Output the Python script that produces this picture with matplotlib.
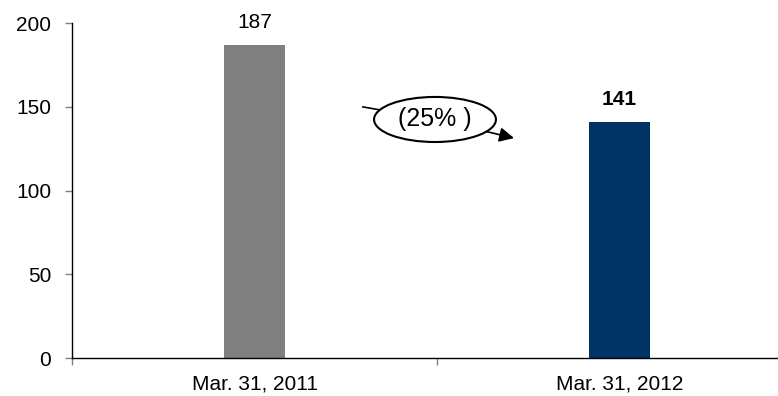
import matplotlib
matplotlib.use("Agg")
import matplotlib.pyplot as plt
from matplotlib.patches import Ellipse

categories = ["Mar. 31, 2011", "Mar. 31, 2012"]
values = [187, 141]
bar_colors = ["#808080", "#003366"]
change_label = "(25% )"
y_ticks = [0, 50, 100, 150, 200]

plt.rcParams["font.family"] = ["Liberation Sans", "DejaVu Sans"]

fig = plt.figure(figsize=(7.78, 3.96), dpi=100)
W, H = 778, 396
ax = fig.add_axes([72 / W, 1 - 358 / H, (W - 72) / W, (358 - 23) / H])

x = list(range(len(categories)))
ax.bar(x, values, width=0.167, color=bar_colors, zorder=2)

ax.set_yticks(y_ticks)
ax.set_yticklabels([str(t) for t in y_ticks], fontsize=15)
ax.set_xticks([-0.5, 0.5, 1.5])
ax.set_xticklabels([])
ax.set_xticks(x, minor=True)
ax.set_xticklabels(categories, minor=True, fontsize=15)
ax.tick_params(axis="x", which="minor", length=0, pad=12)
ax.tick_params(axis="x", which="major", length=5, color="#808080", width=1)
ax.tick_params(axis="y", length=5, color="#808080", width=1, pad=10)

ax.set_ylim(0, 200)
ax.set_xlim(-0.5, -0.5 + (W - 72) / 365)

for s in ("top", "right"):
    ax.spines[s].set_visible(False)
for s in ("left", "bottom"):
    ax.spines[s].set_color("black")
    ax.spines[s].set_linewidth(1)

for xi, v, bold in zip(x, values, [False, True]):
    ax.annotate(str(v), (xi, v), xytext=(0, 9), textcoords="offset points",
                ha="center", va="bottom", fontsize=15,
                fontweight="bold" if bold else "normal")

# change callout: connector line, ellipse badge, and arrow toward the later bar
cx, cy = 0.4945, 142.4
ax.plot([0.297, cx], [149.9, cy], color="black", lw=1.2, zorder=3)
ax.annotate("", xy=(0.711, 131.3), xytext=(cx, cy),
            arrowprops=dict(arrowstyle="-|>", color="black", lw=1.2,
                            mutation_scale=22, shrinkA=0, shrinkB=0),
            zorder=3)
ell = Ellipse((cx, cy), 0.334, 26.9, facecolor="white", edgecolor="black",
              lw=1.5, zorder=4)
ax.add_patch(ell)
ax.text(cx, cy, change_label, ha="center", va="center", fontsize=18, zorder=5)

fig.savefig("out.png", dpi=100)
